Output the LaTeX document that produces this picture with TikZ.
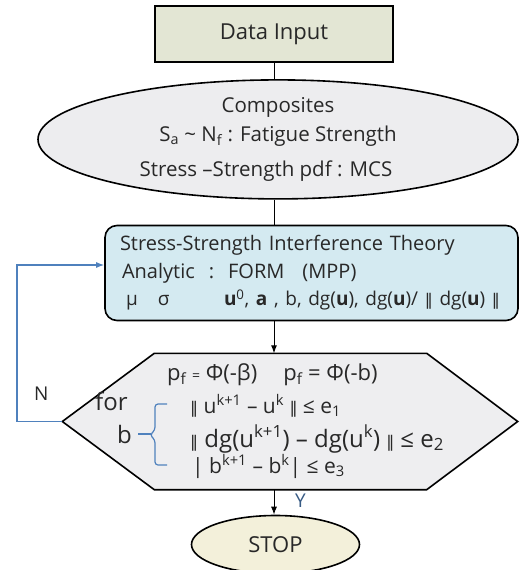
\documentclass[tikz,border=0pt]{standalone}
\usepackage{fontspec}
\setmainfont{Open Sans}
\newfontfamily\symfont{DejaVu Sans}
\usepackage{xcolor}
\usepackage{tikz}
\usetikzlibrary{positioning, shapes.geometric, backgrounds, arrows.meta}

\definecolor{txtgray}{RGB}{40,40,40}
\definecolor{inputfill}{RGB}{227,230,212}
\definecolor{compfill}{RGB}{237,237,239}
\definecolor{theoryfill}{RGB}{212,234,241}
\definecolor{hexfill}{RGB}{238,238,240}
\definecolor{stopfill}{RGB}{243,240,218}
\definecolor{loopblue}{RGB}{79,129,189}

\newcommand{\fsz}[1]{\fontsize{#1}{#1}\selectfont}
\newcommand{\nrm}{{\fontsize{16}{16}\symfont ‖}}

\begin{document}
\begin{tikzpicture}[x=1pt, y=1pt, every node/.style={text=txtgray}, >={Latex[length=8pt, width=6pt]}]

  \tikzstyle{module}=[draw, line width=1.6pt, align=center, inner sep=0pt]
  \tikzstyle{io}=[module, fill=inputfill, line width=2.2pt, minimum width=238pt, minimum height=56pt]
  \tikzstyle{comp}=[module, ellipse, fill=compfill, minimum width=480pt, minimum height=119pt]
  \tikzstyle{theory}=[module, rounded corners=12pt, fill=theoryfill, minimum width=413pt, minimum height=95pt, align=left, text width=383pt]
  \tikzstyle{hexa}=[draw, line width=1.6pt, fill=hexfill]
  \tikzstyle{stopper}=[module, ellipse, fill=stopfill, minimum width=168pt, minimum height=58pt]
  \tikzstyle{cond}=[inner sep=0pt, anchor=base west, font=\fsz{21}]
  \tikzstyle{flow}=[line width=1pt]
  \tikzstyle{loop}=[line width=1.2pt, draw=loopblue]

  \useasboundingbox (0,0) rectangle (521,-570);

  \node [io, font=\fsz{22}] (input) at (274,-34) {Data Input};

  \node [comp, below = 16pt of input, xshift=4pt, font=\fontsize{20.5}{29}\selectfont] (comp) {
    Composites \\
    S\textsubscript{a} \textasciitilde{} N\textsubscript{f} : Fatigue Strength \\[6pt]
    \hspace*{-24pt}Stress –Strength pdf : MCS
  };

  \node [theory, below = 25pt of comp, xshift=33.5pt, font=\fontsize{20}{27.5}\selectfont] (theory) {
    Stress-Strength Interference Theory \\
    \hspace*{2pt}Analytic\hspace{14pt}:\hspace{14pt}FORM\hspace{18pt}(MPP) \\
    {\fsz{19}\makebox[104pt][l]{\hspace*{6pt}μ\hspace{20pt}σ}\textbf{u}\textsuperscript{0}, \textbf{a} , b, dg(\textbf{u}), dg(\textbf{u})/ \nrm{} dg(\textbf{u}) \nrm}
  };

  \node [below = 32pt of theory, xshift=-21pt, minimum width=272pt, minimum height=136pt, inner sep=0pt] (check) {};
  \coordinate (hexwest) at ([xshift=-92pt]check.west);
  \coordinate (hexeast) at ([xshift=91pt]check.east);

  \node [stopper, below = 25pt of check, xshift=-15pt, font=\fsz{22}] (stop) {STOP};

  % text inside the check
  \node [cond, font=\fsz{22}] (pf) at (167,-380) {p\textsubscript{f} {\fsz{14}=} Φ(-β)\hspace{26pt}p\textsubscript{f} = Φ(-b)};
  \node [cond, font=\fsz{24}] (for) at (95,-410) {for};
  \node [cond, font=\fsz{24}] (b) at (117,-443) {b};
  \node [cond] (cond-1) at (190,-413) {\nrm{} u\textsuperscript{k+1} – u\textsuperscript{k} \nrm{} ≤ e\textsubscript{1}};
  \node [cond, font=\fsz{24}] (cond-2) at (190,-447) {\nrm{} dg(u\textsuperscript{k+1}) – dg(u\textsuperscript{k})\hspace{6pt}\nrm{}\hspace{6pt}≤ e\textsubscript{2}};
  \node [cond] (cond-3) at (192,-473) {| b\textsuperscript{k+1} – b\textsuperscript{k}| ≤ e\textsubscript{3}};

  \node [cond, font=\fsz{19}] (no) at (34,-400) {N};
  \node [cond, font=\fsz{19}, text=loopblue!70!black] (yes) at (295,-507) {Y};

  \begin{scope}[on background layer]
    \draw [hexa] (check.north west) -- (check.north east) -- (hexeast) -- (check.south east) -- (check.south west) -- (hexwest) -- cycle;
  \end{scope}

  % brace
  \draw [loop, rounded corners=3pt] (167,-404) -- (155,-404) -- (155,-430) -- (150,-435) -- (155,-440) -- (155,-465) -- (167,-465);
  \draw [loop] ([xshift=6pt]b.east) -- ([xshift=19pt]b.east);

  \draw [flow] (input) -- (input |- comp.north);
  \draw [flow] (comp.south -| input) -- (theory.north -| input);
  \draw [flow, ->] (theory.south -| input) -- (check.north -| input);
  \draw [flow, ->] (check.south -| input) -- (input |- stop.north);

  \coordinate (back) at (17,-265);
  \draw [loop, ->] (hexwest) -| (back) -- (back -| theory.west);

\end{tikzpicture}
\end{document}
